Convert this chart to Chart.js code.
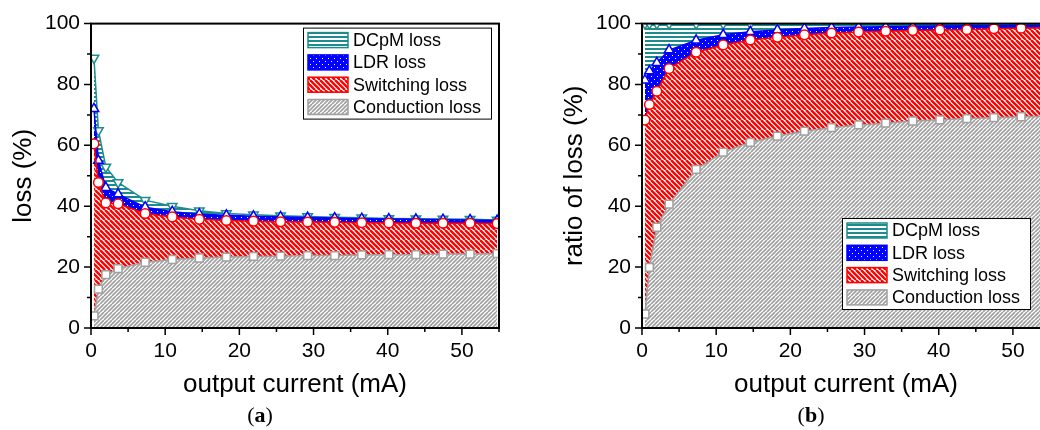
<!DOCTYPE html>
<html>
<head>
<meta charset="utf-8">
<script src="https://cdn.jsdelivr.net/npm/chart.js@4.4.1/dist/chart.umd.min.js"></script>
<style>
  body { margin: 0; background: #fff; width: 1040px; height: 430px; overflow: hidden; position: relative; }
  canvas { position: absolute; top: 0; }
  .cap { position: absolute; top: 403px; width: 120px; text-align: center;
         font: 22px/24px "Liberation Serif", "DejaVu Serif", serif; color: #000; }
</style>
</head>
<body>
<canvas id="graficaPerdidas" width="520" height="430" style="left:0"></canvas>
<canvas id="graficaProporcion" width="520" height="430" style="left:551px"></canvas>
<div class="cap" style="left:200px">(<b>a</b>)</div>
<div class="cap" style="left:751px">(<b>b</b>)</div>

<script>
// Corriente de salida (mA)
const corriente = [0.4, 1.0, 2.0, 3.65, 7.3, 10.95, 14.6, 18.25, 21.9, 25.55, 29.2, 32.85, 36.5, 40.15, 43.8, 47.45, 51.1, 54.75];

// (a) pérdidas acumuladas (%): cada serie es el borde superior de su área
const perdConduccion = [4.0, 12.8, 17.5, 19.5, 21.6, 22.5, 23.0, 23.3, 23.5, 23.6, 23.8, 23.8, 24.0, 24.1, 24.1, 24.3, 24.3, 24.4];
const perdConmutacion = [60.5, 47.8, 41.1, 40.8, 37.6, 36.5, 35.7, 35.3, 35.1, 34.9, 34.8, 34.7, 34.6, 34.5, 34.4, 34.4, 34.4, 34.3];
const perdLDR = [72.0, 55.0, 46.1, 44.0, 39.7, 38.2, 37.4, 37.0, 36.7, 36.5, 36.3, 36.1, 35.9, 35.8, 35.7, 35.6, 35.5, 35.3];
const perdDCpM = [88.7, 64.9, 52.9, 47.8, 42.0, 40.0, 38.5, 37.6, 37.2, 36.9, 36.6, 36.4, 36.2, 36.0, 35.9, 35.8, 35.7, 35.5];

// (b) proporción acumulada de pérdidas (%)
const propConduccion = [4.6, 19.9, 33.1, 40.7, 52.1, 57.8, 61.0, 63.0, 64.7, 65.8, 66.7, 67.3, 68.0, 68.4, 68.8, 69.1, 69.4, 69.6];
const propConmutacion = [68.3, 73.4, 77.8, 85.2, 90.6, 93.0, 94.6, 95.5, 96.3, 96.9, 97.2, 97.5, 97.7, 97.9, 98.0, 98.3, 98.5, 98.6];
const propLDR = [81.4, 84.4, 87.1, 91.3, 94.5, 96.3, 97.3, 97.9, 98.4, 98.7, 98.9, 99.0, 99.1, 99.2, 99.3, 99.3, 99.4, 99.4];
const propDCpM = [100, 100, 100, 100, 100, 100, 100, 100, 100, 100, 100, 100, 100, 100, 100, 100, 100, 100];

const nombres = ['Conduction loss', 'Switching loss', 'LDR loss', 'DCpM loss'];
const ticksX = [0, 10, 20, 30, 40, 50];
const ticksY = [0, 20, 40, 60, 80, 100];

const FUENTE = '"Liberation Sans", Arial, sans-serif';
const GRIS = '#a0a0a0', ROJO = '#ff0000', AZUL = '#0000ff', VERDE = '#1e8c8c';

// --- Tramas de relleno ---
function trama(tam, dibujar) {
    const c = document.createElement('canvas');
    c.width = c.height = tam;
    const g = c.getContext('2d');
    g.fillStyle = '#fff';
    g.fillRect(0, 0, tam, tam);
    dibujar(g, tam);
    return g.createPattern(c, 'repeat');
}

const tramaGris = trama(8, (g, s) => {
    g.strokeStyle = GRIS; g.lineWidth = 1.7;
    for (let x0 = -8; x0 <= 8; x0 += 4) { g.beginPath(); g.moveTo(x0, s); g.lineTo(x0 + s, 0); g.stroke(); }
});
const tramaRoja = trama(10, (g, s) => {
    g.strokeStyle = ROJO; g.lineWidth = 2.4;
    for (let x0 = -10; x0 <= 10; x0 += 5) { g.beginPath(); g.moveTo(x0, 0); g.lineTo(x0 + s, s); g.stroke(); }
});
const tramaAzul = trama(6, (g) => {
    g.fillStyle = AZUL; g.fillRect(0, 0, 6, 6);
    g.fillStyle = '#fff'; g.fillRect(1, 1, 1, 1); g.fillRect(4, 4, 1, 1);
});
const tramaVerde = trama(4, (g) => {
    g.fillStyle = VERDE; g.fillRect(0, 0, 4, 2);
});

const estilos = [
    { color: GRIS, trama: tramaGris, punto: 'rect', rot: 0, radio: 5.5 },
    { color: ROJO, trama: tramaRoja, punto: 'circle', rot: 0, radio: 4.8 },
    { color: AZUL, trama: tramaAzul, punto: 'triangle', rot: 0, radio: 5.5 },
    { color: VERDE, trama: tramaVerde, punto: 'triangle', rot: 180, radio: 5.5 }
];

// --- Marcas de los ejes, marco y leyenda ---
const marcoEjes = {
    id: 'marcoEjes',
    afterDraw(chart) {
        const { ctx, chartArea: a, scales: { x, y } } = chart;
        ctx.save();
        ctx.strokeStyle = '#000';
        ctx.lineWidth = 1.5;
        ctx.beginPath();
        for (let v = 0; v <= x.max; v += 5) {
            const px = x.getPixelForValue(v);
            const largo = v % 10 === 0 ? 7 : 4;
            ctx.moveTo(px, a.bottom); ctx.lineTo(px, a.bottom + largo);
        }
        for (let v = 0; v <= y.max; v += 10) {
            const py = y.getPixelForValue(v);
            const largo = v % 20 === 0 ? 7 : 4;
            ctx.moveTo(a.left - largo, py); ctx.lineTo(a.left, py);
        }
        ctx.stroke();
        ctx.lineWidth = 2;
        ctx.strokeRect(a.left, a.top, a.right - a.left, a.bottom - a.top);
        ctx.restore();
    }
};

const leyendaPerdidas = {
    id: 'leyendaPerdidas',
    afterDraw(chart, args, opts) {
        const { ctx, chartArea: a } = chart;
        const ancho = 188, alto = 91, paso = 22.3;
        const x0 = a.right - opts.derecha - ancho;
        const y0 = opts.arriba != null ? a.top + opts.arriba : a.bottom - opts.abajo - alto;
        ctx.save();
        ctx.fillStyle = '#fff';
        ctx.fillRect(x0, y0, ancho, alto);
        ctx.strokeStyle = '#000';
        ctx.lineWidth = 1;
        ctx.strokeRect(x0 + 0.5, y0 + 0.5, ancho, alto);
        ctx.font = '18px ' + FUENTE;
        ctx.textBaseline = 'middle';
        const ds = chart.data.datasets.slice().reverse();
        ds.forEach((d, i) => {
            const cy = y0 + 12.5 + i * paso;
            ctx.fillStyle = d.backgroundColor;
            ctx.fillRect(x0 + 5, cy - 7.5, 40, 15);
            ctx.strokeStyle = d.borderColor;
            ctx.lineWidth = 1.5;
            ctx.strokeRect(x0 + 5, cy - 7.5, 40, 15);
            ctx.fillStyle = '#000';
            ctx.fillText(d.label, x0 + 50, cy + 1);
        });
        ctx.restore();
    }
};

function crearDatasets(series) {
    return series.map((datos, i) => {
        const e = estilos[i];
        return {
            label: nombres[i],
            data: corriente.map((c, k) => ({ x: c, y: datos[k] })),
            borderColor: e.color,
            backgroundColor: e.trama,
            borderWidth: 1.5,
            fill: i === 0 ? 'origin' : '-1',
            tension: 0,
            pointStyle: e.punto,
            pointRotation: e.rot,
            pointRadius: e.radio,
            pointBackgroundColor: '#fff',
            pointBorderColor: e.color,
            pointBorderWidth: 1.5
        };
    });
}

function crearGrafica(id, series, tituloY, leyenda) {
    return new Chart(document.getElementById(id), {
        type: 'line',
        data: { datasets: crearDatasets(series) },
        options: {
            responsive: false,
            animation: false,
            events: [],
            layout: { autoPadding: false, padding: { top: 23, right: 21, bottom: 0, left: 0 } },
            plugins: {
                legend: { display: false },
                tooltip: { enabled: false },
                filler: { drawTime: 'beforeDatasetsDraw' },
                leyendaPerdidas: leyenda
            },
            scales: {
                x: {
                    type: 'linear', min: 0, max: 55,
                    grid: { display: false, drawTicks: false },
                    border: { display: false },
                    afterFit: s => { s.height = 102; },
                    afterBuildTicks: s => { s.ticks = ticksX.map(v => ({ value: v })); },
                    ticks: { color: '#000', padding: 11, maxRotation: 0, font: { family: FUENTE, size: 21 } },
                    title: { display: true, text: 'output current (mA)', color: '#000',
                             font: { family: FUENTE, size: 26 }, padding: { top: 0, bottom: 30 } }
                },
                y: {
                    min: 0, max: 100,
                    grid: { display: false, drawTicks: false },
                    border: { display: false },
                    afterFit: s => { s.width = 91; },
                    afterBuildTicks: s => { s.ticks = ticksY.map(v => ({ value: v })); },
                    ticks: { color: '#000', padding: 11, font: { family: FUENTE, size: 21 } },
                    title: { display: true, text: tituloY, color: '#000',
                             font: { family: FUENTE, size: 26 }, padding: { top: 8, bottom: 0 } }
                }
            }
        },
        plugins: [marcoEjes, leyendaPerdidas]
    });
}

crearGrafica('graficaPerdidas', [perdConduccion, perdConmutacion, perdLDR, perdDCpM], 'loss (%)', { derecha: 8, arriba: 4 });
crearGrafica('graficaProporcion', [propConduccion, propConmutacion, propLDR, propDCpM], 'ratio of loss (%)', { derecha: 20, abajo: 19 });
</script>
</body>
</html>
